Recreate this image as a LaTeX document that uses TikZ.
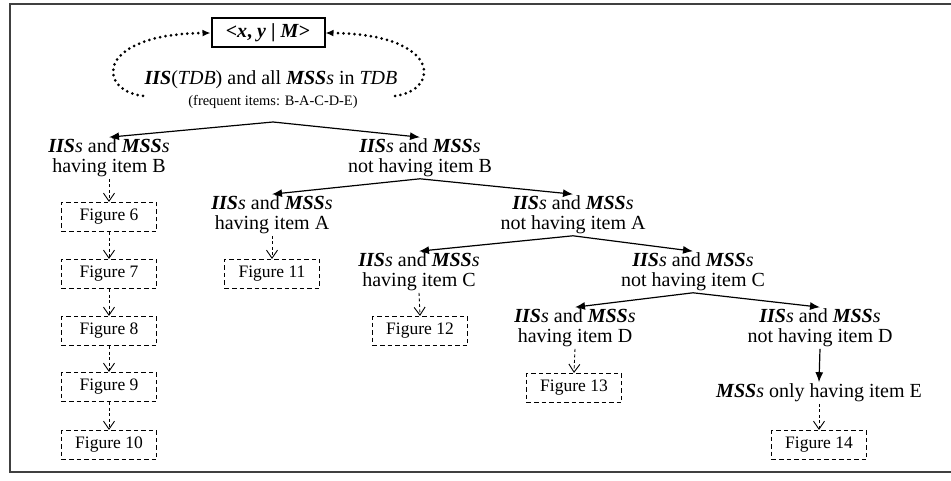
\documentclass[tikz,border=0pt]{standalone}
\usepackage{fontspec}
\setmainfont{Liberation Serif}
\usetikzlibrary{arrows.meta}

\newcommand{\iiss}{\textbf{\textit{IIS}}\textit{s}}
\newcommand{\msss}{\textbf{\textit{MSS}}\textit{s}}

\tikzset{
	set/.style={align=center, inner sep=1.5pt, font=\fontsize{20}{20}\selectfont},
	fig/.style={draw, dash pattern=on 4.5pt off 3pt, line width=1.1pt, minimum width=95pt, minimum height=29pt, inner sep=0pt, font=\fontsize{17.5}{17.5}\selectfont},
	split/.style={-{Latex[length=10pt,width=8pt]}, line width=1.2pt},
	refine/.style={dash pattern=on 3pt off 2.5pt, line width=0.9pt, -{Straight Barb[length=8pt,width=11pt,line width=0.9pt]}},
	link/.style={line width=3pt, line cap=round, dash pattern=on 0pt off 5.5pt, -{Latex[length=8pt,width=7pt]}}
}

\begin{document}
\begin{tikzpicture}[x=1pt,y=-1pt]
		\useasboundingbox (0,0) rectangle (951,481);
		\draw[line width=1.6pt, black!75] (951,4) -- (10,4) -- (10,472) -- (951,472);

		\node[draw, line width=2pt, minimum width=113pt, minimum height=29pt, inner sep=0pt, font=\bfseries\fontsize{20}{20}\selectfont] (xym) at (268,33) {<\textit{x}, \textit{y} | \textit{M}>};
		\node[set] (tdb) at (271,80) {\textbf{\textit{IIS}}(\textit{TDB}) and all \msss{} in \textit{TDB}};
		\node[set, font=\fontsize{14.4}{14.4}\selectfont] (freq) at (273,102) {(frequent items: B-A-C-D-E)};
		\coordinate (tdbl) at (143,96);
		\coordinate (tdbr) at (395,96);
		\draw[link] (tdbl) .. controls (96,90) and (96,34) .. (xym.west);
		\draw[link] (tdbr) .. controls (441,90) and (441,34) .. (xym.east);

		\coordinate (fork) at (273,122);
		\node[set] (hasB) at (109,158) {\iiss{} and \msss\\having item B};
		\node[set] (notB) at (420,158) {\iiss{} and \msss\\not having item B};
		\node[set] (hasA) at (272,215) {\iiss{} and \msss\\having item A};
		\node[set] (notA) at (573,215) {\iiss{} and \msss\\not having item A};
		\node[set] (hasC) at (419,272) {\iiss{} and \msss\\having item C};
		\node[set] (notC) at (693,272) {\iiss{} and \msss\\not having item C};
		\node[set] (hasD) at (575,328) {\iiss{} and \msss\\having item D};
		\node[set] (notD) at (820,328) {\iiss{} and \msss\\not having item D};
		\node[set] (onlyE) at (819,393) {\msss{} only having item E};

		\foreach \n/\y in {6/217, 7/274, 8/331, 9/387, 10/445}
			\node[fig] (fig\n) at (109,\y) {Figure \n};
		\node[fig] (fig11) at (272,274) {Figure 11};
		\node[fig] (fig12) at (420,331) {Figure 12};
		\node[fig] (fig13) at (574,388) {Figure 13};
		\node[fig] (fig14) at (819,445) {Figure 14};

		\draw[split] (fork) -- (hasB.north);
		\draw[split] (fork) -- (notB.north);
		\draw[split] (notB.south) -- (hasA.north);
		\draw[split] (notB.south) -- (notA.north);
		\draw[split] (notA.south) -- (hasC.north);
		\draw[split] (notA.south) -- (notC.north);
		\draw[split] (notC.south) -- (hasD.north);
		\draw[split] (notC.south) -- (notD.north);
		\draw[split] (notD.south) -- (onlyE.north);

		\draw[refine] (hasB.south) -- (fig6.north);
		\foreach \a/\b in {6/7, 7/8, 8/9, 9/10}
			\draw[refine] (fig\a.south) -- (fig\b.north);
		\draw[refine] (hasA.south) -- (fig11.north);
		\draw[refine] (hasC.south) -- (fig12.north);
		\draw[refine] (hasD.south) -- (fig13.north);
		\draw[refine] (onlyE.south) -- (fig14.north);
	\end{tikzpicture}
\end{document}
